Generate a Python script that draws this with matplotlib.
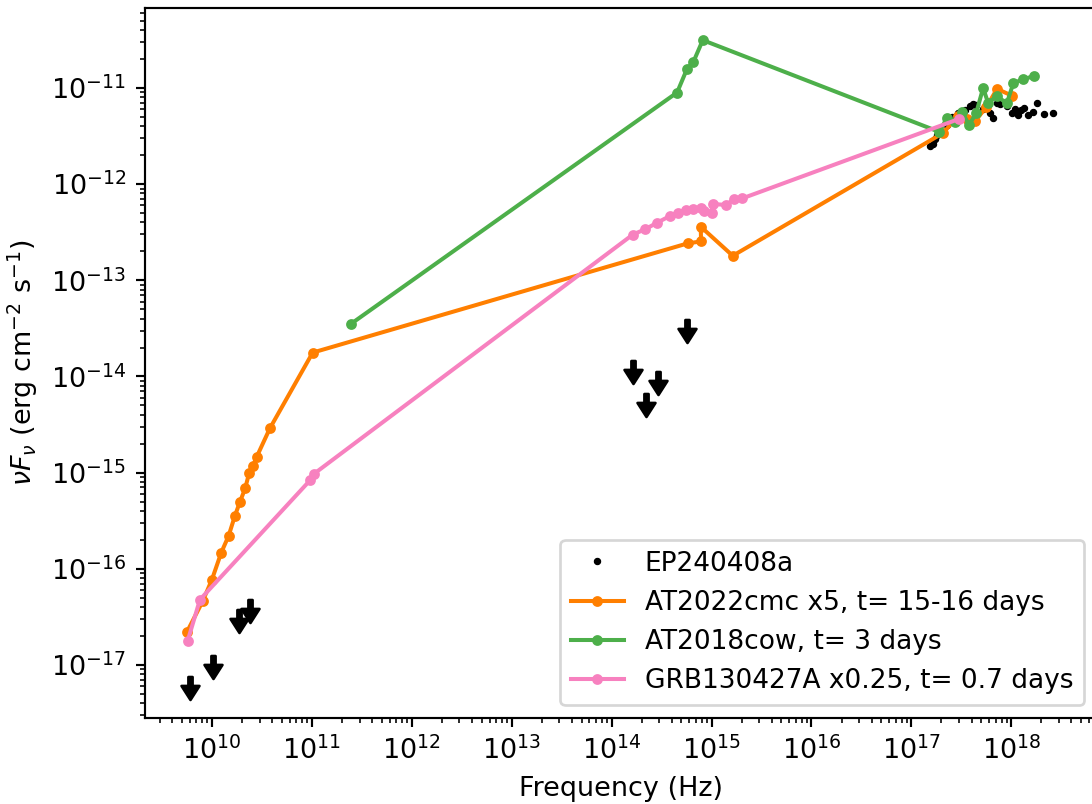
import numpy as np
import matplotlib
matplotlib.use("Agg")
import matplotlib.pyplot as plt
from matplotlib.path import Path

# EP240408a X-ray spectrum (nu, nuFnu)
ep_nu = [1.54e17, 1.65e17, 1.73e17, 1.81e17, 2.28e17, 2.55e17, 2.93e17, 3.45e17,
         3.87e17, 4.15e17, 4.45e17, 4.66e17, 5.22e17, 6.14e17, 6.58e17, 7.21e17,
         7.73e17, 9.08e17, 1.02e18, 1.08e18, 1.17e18, 1.25e18, 1.34e18, 1.47e18,
         1.65e18, 1.81e18, 2.13e18, 2.62e18]
ep_flux = [2.49e-12, 2.59e-12, 2.95e-12, 3.21e-12, 4.12e-12, 5.0e-12, 5.5e-12, 5.9e-12,
           6.5e-12, 6.8e-12, 6.66e-12, 5.5e-12, 6.05e-12, 5.5e-12, 4.93e-12, 6.98e-12,
           6.9e-12, 6.5e-12, 5.5e-12, 6.12e-12, 5.24e-12, 5.9e-12, 6.26e-12, 5.24e-12,
           5.64e-12, 7.06e-12, 5.37e-12, 5.5e-12]

# EP240408a upper limits (radio and optical/NIR)
ul_nu = [6.1e9, 1.02e10, 1.88e10, 2.4e10, 1.65e14, 2.19e14, 2.93e14, 5.65e14]
ul_flux = [5.8e-18, 9.6e-18, 2.83e-17, 3.6e-17, 1.1e-14, 5.07e-15, 8.5e-15, 3.0e-14]

# AT2022cmc x5, t = 15-16 days
cmc_nu = [5.6e9, 8.07e9, 1.0e10, 1.24e10, 1.47e10, 1.70e10, 1.91e10, 2.15e10, 2.36e10,
          2.59e10, 2.80e10, 3.8e10, 1.02e11, 5.75e14, 7.85e14, 7.8e14, 1.63e15,
          2.07e17, 2.93e17, 3.61e17, 4.34e17, 5.6e17, 7.2e17, 1.02e18]
cmc_flux = [2.18e-17, 4.57e-17, 7.7e-17, 1.47e-16, 2.2e-16, 3.56e-16, 4.97e-16, 6.84e-16,
            9.9e-16, 1.18e-15, 1.45e-15, 2.88e-15, 1.77e-14, 2.42e-13, 2.54e-13, 3.61e-13,
            1.8e-13, 3.4e-12, 5.1e-12, 4.76e-12, 4.54e-12, 6.3e-12, 9.8e-12, 8.3e-12]

# AT2018cow, t = 3 days
cow_nu = [2.46e11, 4.52e14, 5.65e14, 6.58e14, 8.17e14, 1.9e17, 2.26e17, 2.74e17,
          3.22e17, 3.78e17, 4.45e17, 5.22e17, 5.86e17, 7.17e17, 9.0e17, 1.05e18,
          1.32e18, 1.69e18]
cow_flux = [3.52e-14, 8.98e-12, 1.56e-11, 1.87e-11, 3.15e-11, 3.5e-12, 4.84e-12, 4.44e-12,
            5.6e-12, 4.12e-12, 5.5e-12, 1.0e-11, 7.0e-12, 8.26e-12, 6.93e-12, 1.13e-11,
            1.23e-11, 1.34e-11]

# GRB130427A x0.25, t = 0.7 days
grb_nu = [5.7e9, 7.59e9, 9.57e10, 1.05e11, 1.63e14, 2.17e14, 2.86e14, 3.84e14, 4.66e14,
          5.56e14, 6.58e14, 7.8e14, 8.4e14, 1.0e15, 1.03e15, 1.40e15, 1.68e15, 2.02e15,
          3.0e17]
grb_flux = [1.75e-17, 4.77e-17, 8.28e-16, 9.7e-16, 2.99e-13, 3.4e-13, 3.98e-13, 4.67e-13,
            5.06e-13, 5.39e-13, 5.48e-13, 5.61e-13, 5.3e-13, 5.0e-13, 6.22e-13, 6.08e-13,
            7.0e-13, 7.1e-13, 4.77e-12]

# down arrow marker for upper limits
arrow = Path([(-0.09, 0.5), (0.09, 0.5), (0.09, 0.11), (0.39, 0.11), (0.0, -0.5),
              (-0.39, 0.11), (-0.09, 0.11), (-0.09, 0.5)], closed=True)

dpi = 194
fig = plt.figure(figsize=(1092 / dpi, 804 / dpi), dpi=dpi)
# axes run slightly past the right edge of the canvas
ax = fig.add_axes([145 / 1092, 1 - 718 / 804, 952 / 1092, 710 / 804])

ax.plot(ep_nu, ep_flux, '.', color='k', ms=3.5, label='EP240408a')
ax.plot(cmc_nu, cmc_flux, '.-', color='#ff7f00', label='AT2022cmc x5, t= 15-16 days')
ax.plot(cow_nu, cow_flux, '.-', color='#4daf4a', label='AT2018cow, t= 3 days')
ax.plot(grb_nu, grb_flux, '.-', color='#f781bf', label='GRB130427A x0.25, t= 0.7 days')
ax.plot(ul_nu, ul_flux, ls='none', marker=arrow, ms=8.5, color='k')

ax.set_xscale('log')
ax.set_yscale('log')
ax.set_xlim(2.14e9, 7.2e18)
ax.set_ylim(2.8e-18, 6.8e-11)
ax.set_xlabel('Frequency (Hz)')
ax.set_ylabel(r'$\nu F_{\nu}$ (erg cm$^{-2}$ s$^{-1}$)')
ax.legend(loc='lower right', fontsize=9.8)

fig.savefig('out.png', dpi=dpi)
